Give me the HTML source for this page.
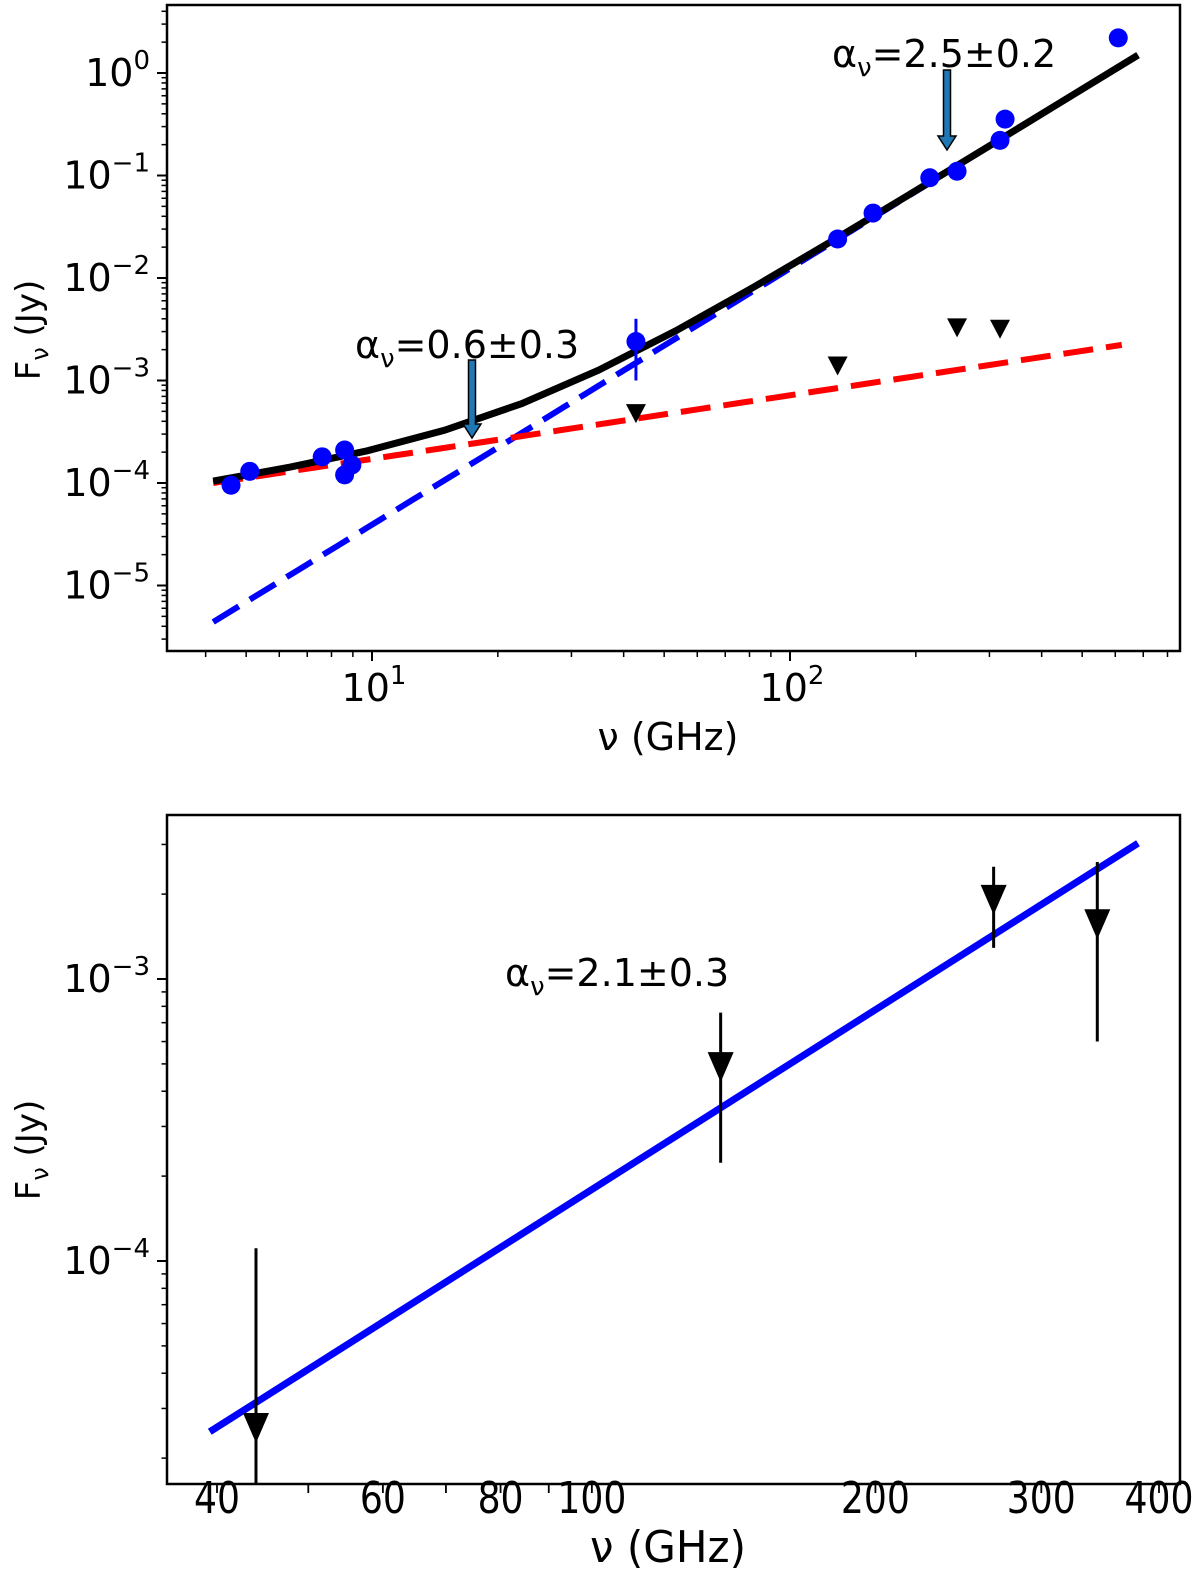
<!DOCTYPE html>
<html><head><meta charset="utf-8"><style>
html,body{margin:0;padding:0;background:#fff;}
svg text{font-family:"DejaVu Sans","Liberation Sans",sans-serif;fill:#000;}
</style></head><body>
<svg id="c" width="1200" height="1569" xmlns="http://www.w3.org/2000/svg"></svg>
<script>
// ---- Top panel data ----
const topDetFreq = [4.6, 5.1, 7.6, 8.6, 8.6, 8.95, 42.8, 130, 158, 216, 251, 318, 327, 610];
const topDetFlux = [9.5e-5, 1.3e-4, 1.8e-4, 2.1e-4, 1.2e-4, 1.5e-4, 2.4e-3, 0.024, 0.043, 0.095, 0.11, 0.22, 0.355, 2.2];
const topErrFreq = [42.8];
const topErrLo = [1.0e-3];
const topErrHi = [4.0e-3];
const topLimFreq = [42.8, 130, 251, 318];
const topLimFlux = [4.8e-4, 1.4e-3, 3.3e-3, 3.2e-3];
const redAmp = 1.0e-4, redIdx = 0.62, blueAmp = 4.4e-6, blueIdx = 2.5, refFreq = 4.17;
const fitRange = [4.17, 680];
const topYTicks = [0, -1, -2, -3, -4, -5];
const topXTicks = [1, 2];
// ---- Bottom panel data ----
const botFitFreq = [39.3, 380];
const botFitFlux = [2.48e-5, 3.03e-3];
const botLimFreq = [44.0, 137, 267, 344];
const botLimFlux = [2.6e-5, 4.95e-4, 1.94e-3, 1.59e-3];
const botErrLo = [1.5e-5, 2.23e-4, 1.29e-3, 6.0e-4];
const botErrHi = [1.11e-4, 7.6e-4, 2.5e-3, 2.6e-3];
const botXTicks = [40, 60, 80, 100, 200, 300, 400];
const botYTicks = [-3, -4];

const NS = "http://www.w3.org/2000/svg";
const svg = document.getElementById('c');
function mk(tag, attrs, parent) {
  const e = document.createElementNS(NS, tag);
  for (const k in attrs) e.setAttribute(k, attrs[k]);
  (parent || svg).appendChild(e);
  return e;
}
const L = Math.log10;
const T = {x0:167, x1:1180, y0:5, y1:651};
const tx = v => 372 + (L(v) - 1) * 418;
const ty = v => 73 - L(v) * 102.5;
const B = {x0:167, x1:1180, y0:815, y1:1484};
const bx = v => 217 + L(v / 40) * 942;
const by = v => 979 - (L(v) + 3) * 282;

function frame(A, name) {
  const r = mk('rect', {x:A.x0, y:A.y0, width:A.x1-A.x0, height:A.y1-A.y0, fill:'none', stroke:'#000', 'stroke-width':2.5});
  
  
}
function clip(id, A) {
  const cp = mk('clipPath', {id:id});
  mk('rect', {x:A.x0, y:A.y0, width:A.x1-A.x0, height:A.y1-A.y0}, cp);
}
clip('ct', T); clip('cb', B);

// ---- TOP ----
const gT = mk('g', {'clip-path':'url(#ct)'});


function curve(f, a, b, n) {
  let d = '';
  for (let i = 0; i <= n; i++) {
    const v = Math.pow(10, L(a) + (L(b) - L(a)) * i / n);
    d += (i ? 'L' : 'M') + tx(v).toFixed(1) + ',' + ty(f(v)).toFixed(1);
  }
  return d;
}
const red = v => redAmp * Math.pow(v / refFreq, redIdx);
const blue = v => blueAmp * Math.pow(v / refFreq, blueIdx);
let p = mk('path', {d:curve(blue, fitRange[0], fitRange[1], 60), fill:'none', stroke:'#0000ff', 'stroke-width':6, 'stroke-dasharray':'30,13'}, gT);


p = mk('path', {d:curve(red, fitRange[0], 622, 60), fill:'none', stroke:'#ff0000', 'stroke-width':6, 'stroke-dasharray':'30,13'}, gT);


p = mk('path', {d:curve(v => red(v) + blue(v), fitRange[0], fitRange[1], 12), fill:'none', stroke:'#000', 'stroke-width':7}, gT);


topErrFreq.forEach((f, i) => {
  const e = mk('line', {x1:tx(f), x2:tx(f), y1:ty(topErrLo[i]), y2:ty(topErrHi[i]), stroke:'#0000ff', 'stroke-width':3}, gT);
  
  
});
topDetFreq.forEach((f, i) => {
  const c = mk('circle', {cx:tx(f), cy:ty(topDetFlux[i]), r:9.5, fill:'#0000ff'}, gT);
  
  
});
topLimFreq.forEach((f, i) => {
  const x = tx(f), y = ty(topLimFlux[i]);
  const t = mk('polygon', {points:`${x-10},${y-9} ${x+10},${y-9} ${x},${y+10}`, fill:'#000'}, gT);
  
  
});
function arrow(x, yA, yB, name) {
  const g = mk('g', {});
  
  
  mk('path', {d:`M${x-3.5},${yA} L${x+3.5},${yA} L${x+3.5},${yB-14} L${x+9},${yB-14} L${x},${yB} L${x-9},${yB-14} L${x-3.5},${yB-14} Z`, fill:'#1f77b4', stroke:'#000', 'stroke-width':1.5}, g);
}
arrow(472, 360, 438, 'annotation-arrow-low');
arrow(947, 70, 150, 'annotation-arrow-high');
function alphaText(x, y, val, name, w) {
  const t = mk('text', {x:x, y:y, 'font-size':38});
  
  
  t.innerHTML = 'α<tspan font-size="26" dy="9">ν</tspan><tspan dy="-9">=' + val + '</tspan>';
}
alphaText(355, 358, '0.6±0.3', 'alpha-label-low');
alphaText(832, 67, '2.5±0.2', 'alpha-label-high');
alphaText(505, 986, '2.1±0.3', 'alpha-label-bottom');
frame(T, 'top-axes-frame');

function yMinorTicks(A, fy, dMin, dMax, len) {
  for (let d = dMin; d <= dMax; d++) for (let m = 1; m <= 9; m++) {
    const y = fy(m * Math.pow(10, d));
    if (y < A.y0 - 0.5 || y > A.y1 + 0.5) continue;
    mk('line', {x1:A.x0, x2:A.x0 - (m === 1 ? len : len * 0.55), y1:y, y2:y, stroke:'#000', 'stroke-width':m===1?2:1.5});
  }
}
yMinorTicks(T, ty, -6, 0, 10);
for (let d = 0; d <= 2; d++) for (let m = 1; m <= 9; m++) {
  const x = tx(m * Math.pow(10, d));
  if (x < T.x0 || x > T.x1) continue;
  mk('line', {x1:x, x2:x, y1:T.y1, y2:T.y1 + (m === 1 ? 10 : 6), stroke:'#000', 'stroke-width':m===1?2:1.5});
}
topYTicks.forEach(d => {
  const t = mk('text', {x:150, y:ty(Math.pow(10, d)) + 13, 'font-size':38, 'text-anchor':'end'});
  
  
  t.innerHTML = '10<tspan font-size="26" dy="-17">' + (d < 0 ? '−' + (-d) : d) + '</tspan>';
});
topXTicks.forEach(d => {
  const t = mk('text', {x:tx(Math.pow(10, d)) + 2, y:701, 'font-size':38, 'text-anchor':'middle'});
  
  
  t.innerHTML = '10<tspan font-size="26" dy="-17">' + d + '</tspan>';
});
function labels(cx, cy, xlx, xly, pre, narrow) {
  let t = mk('text', {x:xlx, y:xly, 'font-size':narrow ? 44 : 38, 'text-anchor':'middle'});
  if (narrow) { t.setAttribute('textLength', 156); t.setAttribute('lengthAdjust', 'spacingAndGlyphs'); }
  
  
  t.textContent = 'ν (GHz)';
  t = mk('text', {x:0, y:0, 'font-size':34, 'text-anchor':'middle', transform:`translate(${cx},${cy}) rotate(-90)`});
  
  
  t.innerHTML = 'F<tspan font-size="24" dy="8">ν</tspan><tspan dy="-8"> (Jy)</tspan>';
}
labels(40, 330, 668, 750, 'top', false);

// ---- BOTTOM ----
const gB = mk('g', {'clip-path':'url(#cb)'});


p = mk('line', {x1:bx(botFitFreq[0]), y1:by(botFitFlux[0]), x2:bx(botFitFreq[1]), y2:by(botFitFlux[1]), stroke:'#0000ff', 'stroke-width':7}, gB);


botLimFreq.forEach((f, i) => {
  const x = bx(f), y = by(botLimFlux[i]);
  const e = mk('line', {x1:x, x2:x, y1:by(botErrLo[i]), y2:by(botErrHi[i]), stroke:'#000', 'stroke-width':3}, gB);
  
  
  const t = mk('polygon', {points:`${x-13},${y-13} ${x+13},${y-13} ${x},${y+17}`, fill:'#000'}, gB);
  
  
});
frame(B, 'bottom-axes-frame');
yMinorTicks(B, by, -5, -3, 10);
[40,50,60,70,80,90,100,200,300,400].forEach(v => {
  const x = bx(v);
  mk('line', {x1:x, x2:x, y1:B.y1, y2:B.y1 + 9, stroke:'#000', 'stroke-width':1.8});
});
botXTicks.forEach(v => {
  const s = String(v);
  const t = mk('text', {x:bx(v), y:1513, 'font-size':44, 'text-anchor':'middle', textLength:s.length * 23, lengthAdjust:'spacingAndGlyphs'});
  
  
  t.textContent = s;
});
botYTicks.forEach(d => {
  const t = mk('text', {x:150, y:by(Math.pow(10, d)) + 13, 'font-size':38, 'text-anchor':'end'});
  
  
  t.innerHTML = '10<tspan font-size="26" dy="-17">−' + (-d) + '</tspan>';
});
labels(40, 1150, 668, 1562, 'bottom', true);
</script>
</body></html>
